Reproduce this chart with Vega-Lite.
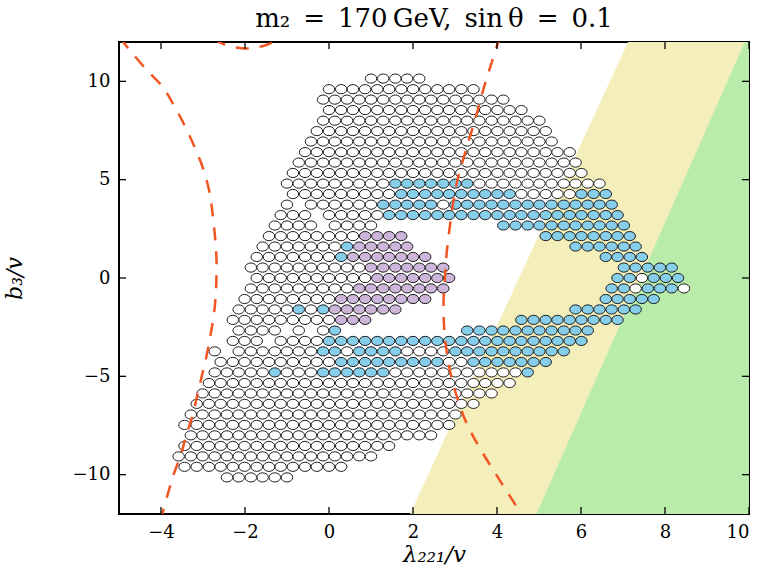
{
  "$schema": "https://vega.github.io/schema/vega-lite/v6.json",
  "width": 630,
  "height": 472,
  "autosize": {"type": "none"},
  "padding": {"left": 119, "top": 42, "right": 17, "bottom": 57},
  "background": "white",
  "config": {
    "view": {"stroke": "black", "strokeWidth": 2},
    "axis": {
      "domain": false, "grid": false, "ticks": false,
      "labelFont": "DejaVu Serif", "labelFontSize": 18, "labelColor": "black", "labelPadding": 9,
      "titleFont": "DejaVu Serif", "titleFontWeight": "normal", "titleFontStyle": "italic", "titleColor": "black"
    }
  },
  "title": {
    "text": "m\u2082\u2002=\u2002170\u2009GeV,\u2002sin\u2009\u03b8\u2002=\u20020.1",
    "font": "DejaVu Serif", "fontSize": 26, "fontWeight": "normal", "color": "black",
    "anchor": "middle", "frame": "group", "offset": 9
  },
  "datasets": {
    "bands": [
      {"band": "yellow", "y": -12, "x": 1.93, "x2": 10},
      {"band": "yellow", "y": 12, "x": 7.12, "x2": 10},
      {"band": "green", "y": -12, "x": 4.94, "x2": 10},
      {"band": "green", "y": 12, "x": 9.90, "x2": 10}
    ],
    "tickvals": [
      {"axis": "x", "v": -4}, {"axis": "x", "v": -2}, {"axis": "x", "v": 0}, {"axis": "x", "v": 2},
      {"axis": "x", "v": 4}, {"axis": "x", "v": 6}, {"axis": "x", "v": 8}, {"axis": "x", "v": 10},
      {"axis": "y", "v": -10}, {"axis": "y", "v": -5}, {"axis": "y", "v": 0}, {"axis": "y", "v": 5}, {"axis": "y", "v": 10}
    ],
    "contours": [
      {"curve": "L", "k": 0, "x": -4.97, "y": 12.2},
      {"curve": "L", "k": 1, "x": -4.90, "y": 12.0},
      {"curve": "L", "k": 2, "x": -4.74, "y": 11.57},
      {"curve": "L", "k": 3, "x": -4.35, "y": 10.6},
      {"curve": "L", "k": 4, "x": -3.95, "y": 9.69},
      {"curve": "L", "k": 5, "x": -3.70, "y": 8.8},
      {"curve": "L", "k": 6, "x": -3.50, "y": 8.02},
      {"curve": "L", "k": 7, "x": -3.24, "y": 6.85},
      {"curve": "L", "k": 8, "x": -3.00, "y": 5.58},
      {"curve": "L", "k": 9, "x": -2.84, "y": 4.31},
      {"curve": "L", "k": 10, "x": -2.76, "y": 3.04},
      {"curve": "L", "k": 11, "x": -2.71, "y": 2.0},
      {"curve": "L", "k": 12, "x": -2.68, "y": 1.0},
      {"curve": "L", "k": 13, "x": -2.68, "y": 0.0},
      {"curve": "L", "k": 14, "x": -2.70, "y": -1.0},
      {"curve": "L", "k": 15, "x": -2.75, "y": -2.0},
      {"curve": "L", "k": 16, "x": -2.83, "y": -3.0},
      {"curve": "L", "k": 17, "x": -2.92, "y": -4.0},
      {"curve": "L", "k": 18, "x": -3.03, "y": -5.0},
      {"curve": "L", "k": 19, "x": -3.14, "y": -6.0},
      {"curve": "L", "k": 20, "x": -3.25, "y": -7.0},
      {"curve": "L", "k": 21, "x": -3.40, "y": -8.0},
      {"curve": "L", "k": 22, "x": -3.53, "y": -9.0},
      {"curve": "L", "k": 23, "x": -3.70, "y": -10.0},
      {"curve": "L", "k": 24, "x": -3.84, "y": -11.0},
      {"curve": "L", "k": 25, "x": -3.97, "y": -12.0},
      {"curve": "L", "k": 26, "x": -4.01, "y": -12.3},
      {"curve": "R", "k": 0, "x": 4.07, "y": 12.3},
      {"curve": "R", "k": 1, "x": 4.03, "y": 12.0},
      {"curve": "R", "k": 2, "x": 3.88, "y": 11.0},
      {"curve": "R", "k": 3, "x": 3.73, "y": 10.0},
      {"curve": "R", "k": 4, "x": 3.60, "y": 9.0},
      {"curve": "R", "k": 5, "x": 3.47, "y": 8.0},
      {"curve": "R", "k": 6, "x": 3.33, "y": 7.0},
      {"curve": "R", "k": 7, "x": 3.19, "y": 6.0},
      {"curve": "R", "k": 8, "x": 3.06, "y": 5.0},
      {"curve": "R", "k": 9, "x": 2.97, "y": 4.0},
      {"curve": "R", "k": 10, "x": 2.90, "y": 3.0},
      {"curve": "R", "k": 11, "x": 2.84, "y": 2.0},
      {"curve": "R", "k": 12, "x": 2.79, "y": 1.0},
      {"curve": "R", "k": 13, "x": 2.76, "y": 0.0},
      {"curve": "R", "k": 14, "x": 2.73, "y": -1.0},
      {"curve": "R", "k": 15, "x": 2.73, "y": -2.0},
      {"curve": "R", "k": 16, "x": 2.76, "y": -3.0},
      {"curve": "R", "k": 17, "x": 2.82, "y": -4.0},
      {"curve": "R", "k": 18, "x": 2.91, "y": -5.0},
      {"curve": "R", "k": 19, "x": 3.04, "y": -6.0},
      {"curve": "R", "k": 20, "x": 3.20, "y": -7.0},
      {"curve": "R", "k": 21, "x": 3.42, "y": -8.0},
      {"curve": "R", "k": 22, "x": 3.69, "y": -9.0},
      {"curve": "R", "k": 23, "x": 3.98, "y": -10.0},
      {"curve": "R", "k": 24, "x": 4.28, "y": -11.0},
      {"curve": "R", "k": 25, "x": 4.58, "y": -12.0},
      {"curve": "R", "k": 26, "x": 4.67, "y": -12.3},
      {"curve": "T", "k": 0, "x": -2.75, "y": 12.15},
      {"curve": "T", "k": 1, "x": -2.50, "y": 11.88},
      {"curve": "T", "k": 2, "x": -2.25, "y": 11.73},
      {"curve": "T", "k": 3, "x": -1.97, "y": 11.67},
      {"curve": "T", "k": 4, "x": -1.70, "y": 11.73},
      {"curve": "T", "k": 5, "x": -1.45, "y": 11.88},
      {"curve": "T", "k": 6, "x": -1.20, "y": 12.15}
    ],
    "scan": [
      {"x":1.00,"y":10.14,"c":"w"},{"x":1.29,"y":10.14,"c":"w"},{"x":1.58,"y":10.14,"c":"w"},{"x":1.86,"y":10.14,"c":"w"},{"x":2.15,"y":10.14,"c":"w"},

      {"x":0.00,"y":9.60,"c":"w"},{"x":0.29,"y":9.60,"c":"w"},{"x":0.57,"y":9.60,"c":"w"},{"x":0.86,"y":9.60,"c":"w"},{"x":1.15,"y":9.60,"c":"w"},{"x":1.43,"y":9.60,"c":"w"},{"x":1.72,"y":9.60,"c":"w"},{"x":2.00,"y":9.60,"c":"w"},{"x":2.29,"y":9.60,"c":"w"},{"x":2.58,"y":9.60,"c":"w"},{"x":2.86,"y":9.60,"c":"w"},{"x":3.15,"y":9.60,"c":"w"},{"x":3.44,"y":9.60,"c":"w"},

      {"x":-0.14,"y":9.07,"c":"w"},{"x":0.14,"y":9.07,"c":"w"},{"x":0.43,"y":9.07,"c":"w"},{"x":0.72,"y":9.07,"c":"w"},{"x":1.00,"y":9.07,"c":"w"},{"x":1.29,"y":9.07,"c":"w"},{"x":1.58,"y":9.07,"c":"w"},{"x":1.86,"y":9.07,"c":"w"},{"x":2.15,"y":9.07,"c":"w"},{"x":2.43,"y":9.07,"c":"w"},{"x":2.72,"y":9.07,"c":"w"},{"x":3.01,"y":9.07,"c":"w"},{"x":3.29,"y":9.07,"c":"w"},{"x":3.58,"y":9.07,"c":"w"},{"x":3.87,"y":9.07,"c":"w"},{"x":4.15,"y":9.07,"c":"w"},

      {"x":0.00,"y":8.54,"c":"w"},{"x":0.29,"y":8.54,"c":"w"},{"x":0.57,"y":8.54,"c":"w"},{"x":0.86,"y":8.54,"c":"w"},{"x":1.15,"y":8.54,"c":"w"},{"x":1.43,"y":8.54,"c":"w"},{"x":1.72,"y":8.54,"c":"w"},{"x":2.00,"y":8.54,"c":"w"},{"x":2.29,"y":8.54,"c":"w"},{"x":2.58,"y":8.54,"c":"w"},{"x":2.86,"y":8.54,"c":"w"},{"x":3.15,"y":8.54,"c":"w"},{"x":3.44,"y":8.54,"c":"w"},{"x":3.72,"y":8.54,"c":"w"},{"x":4.01,"y":8.54,"c":"w"},{"x":4.30,"y":8.54,"c":"w"},{"x":4.58,"y":8.54,"c":"w"},

      {"x":-0.14,"y":8.00,"c":"w"},{"x":0.14,"y":8.00,"c":"w"},{"x":0.43,"y":8.00,"c":"w"},{"x":0.72,"y":8.00,"c":"w"},{"x":1.00,"y":8.00,"c":"w"},{"x":1.29,"y":8.00,"c":"w"},{"x":1.58,"y":8.00,"c":"w"},{"x":1.86,"y":8.00,"c":"w"},{"x":2.15,"y":8.00,"c":"w"},{"x":2.43,"y":8.00,"c":"w"},{"x":2.72,"y":8.00,"c":"w"},{"x":3.01,"y":8.00,"c":"w"},{"x":3.29,"y":8.00,"c":"w"},{"x":3.58,"y":8.00,"c":"w"},{"x":3.87,"y":8.00,"c":"w"},{"x":4.15,"y":8.00,"c":"w"},{"x":4.44,"y":8.00,"c":"w"},{"x":4.73,"y":8.00,"c":"w"},{"x":5.01,"y":8.00,"c":"w"},

      {"x":-0.29,"y":7.47,"c":"w"},{"x":0.00,"y":7.47,"c":"w"},{"x":0.29,"y":7.47,"c":"w"},{"x":0.57,"y":7.47,"c":"w"},{"x":0.86,"y":7.47,"c":"w"},{"x":1.15,"y":7.47,"c":"w"},{"x":1.43,"y":7.47,"c":"w"},{"x":1.72,"y":7.47,"c":"w"},{"x":2.00,"y":7.47,"c":"w"},{"x":2.29,"y":7.47,"c":"w"},{"x":2.58,"y":7.47,"c":"w"},{"x":2.86,"y":7.47,"c":"w"},{"x":3.15,"y":7.47,"c":"w"},{"x":3.44,"y":7.47,"c":"w"},{"x":3.72,"y":7.47,"c":"w"},{"x":4.01,"y":7.47,"c":"w"},{"x":4.30,"y":7.47,"c":"w"},{"x":4.58,"y":7.47,"c":"w"},{"x":4.87,"y":7.47,"c":"w"},{"x":5.16,"y":7.47,"c":"w"},

      {"x":-0.43,"y":6.94,"c":"w"},{"x":-0.14,"y":6.94,"c":"w"},{"x":0.14,"y":6.94,"c":"w"},{"x":0.43,"y":6.94,"c":"w"},{"x":0.72,"y":6.94,"c":"w"},{"x":1.00,"y":6.94,"c":"w"},{"x":1.29,"y":6.94,"c":"w"},{"x":1.58,"y":6.94,"c":"w"},{"x":1.86,"y":6.94,"c":"w"},{"x":2.15,"y":6.94,"c":"w"},{"x":2.43,"y":6.94,"c":"w"},{"x":2.72,"y":6.94,"c":"w"},{"x":3.01,"y":6.94,"c":"w"},{"x":3.29,"y":6.94,"c":"w"},{"x":3.58,"y":6.94,"c":"w"},{"x":3.87,"y":6.94,"c":"w"},{"x":4.15,"y":6.94,"c":"w"},{"x":4.44,"y":6.94,"c":"w"},{"x":4.73,"y":6.94,"c":"w"},{"x":5.01,"y":6.94,"c":"w"},{"x":5.30,"y":6.94,"c":"w"},

      {"x":-0.57,"y":6.40,"c":"w"},{"x":-0.29,"y":6.40,"c":"w"},{"x":0.00,"y":6.40,"c":"w"},{"x":0.29,"y":6.40,"c":"w"},{"x":0.57,"y":6.40,"c":"w"},{"x":0.86,"y":6.40,"c":"w"},{"x":1.15,"y":6.40,"c":"w"},{"x":1.43,"y":6.40,"c":"w"},{"x":1.72,"y":6.40,"c":"w"},{"x":2.00,"y":6.40,"c":"w"},{"x":2.29,"y":6.40,"c":"w"},{"x":2.58,"y":6.40,"c":"w"},{"x":2.86,"y":6.40,"c":"w"},{"x":3.15,"y":6.40,"c":"w"},{"x":3.44,"y":6.40,"c":"w"},{"x":3.72,"y":6.40,"c":"w"},{"x":4.01,"y":6.40,"c":"w"},{"x":4.30,"y":6.40,"c":"w"},{"x":4.58,"y":6.40,"c":"w"},{"x":4.87,"y":6.40,"c":"w"},{"x":5.16,"y":6.40,"c":"w"},{"x":5.44,"y":6.40,"c":"w"},{"x":5.73,"y":6.40,"c":"w"},

      {"x":-0.72,"y":5.87,"c":"w"},{"x":-0.43,"y":5.87,"c":"w"},{"x":-0.14,"y":5.87,"c":"w"},{"x":0.14,"y":5.87,"c":"w"},{"x":0.43,"y":5.87,"c":"w"},{"x":0.72,"y":5.87,"c":"w"},{"x":1.00,"y":5.87,"c":"w"},{"x":1.29,"y":5.87,"c":"w"},{"x":1.58,"y":5.87,"c":"w"},{"x":1.86,"y":5.87,"c":"w"},{"x":2.15,"y":5.87,"c":"w"},{"x":2.43,"y":5.87,"c":"w"},{"x":2.72,"y":5.87,"c":"w"},{"x":3.01,"y":5.87,"c":"w"},{"x":3.29,"y":5.87,"c":"w"},{"x":3.58,"y":5.87,"c":"w"},{"x":3.87,"y":5.87,"c":"w"},{"x":4.15,"y":5.87,"c":"w"},{"x":4.44,"y":5.87,"c":"w"},{"x":4.73,"y":5.87,"c":"w"},{"x":5.01,"y":5.87,"c":"w"},{"x":5.30,"y":5.87,"c":"w"},{"x":5.59,"y":5.87,"c":"w"},{"x":5.87,"y":5.87,"c":"w"},

      {"x":-0.86,"y":5.34,"c":"w"},{"x":-0.57,"y":5.34,"c":"w"},{"x":-0.29,"y":5.34,"c":"w"},{"x":0.00,"y":5.34,"c":"w"},{"x":0.29,"y":5.34,"c":"w"},{"x":0.57,"y":5.34,"c":"w"},{"x":0.86,"y":5.34,"c":"w"},{"x":1.15,"y":5.34,"c":"w"},{"x":1.43,"y":5.34,"c":"w"},{"x":1.72,"y":5.34,"c":"w"},{"x":2.00,"y":5.34,"c":"w"},{"x":2.29,"y":5.34,"c":"w"},{"x":2.58,"y":5.34,"c":"w"},{"x":2.86,"y":5.34,"c":"w"},{"x":3.15,"y":5.34,"c":"w"},{"x":3.44,"y":5.34,"c":"w"},{"x":3.72,"y":5.34,"c":"w"},{"x":4.01,"y":5.34,"c":"w"},{"x":4.30,"y":5.34,"c":"w"},{"x":4.58,"y":5.34,"c":"w"},{"x":4.87,"y":5.34,"c":"w"},{"x":5.16,"y":5.34,"c":"w"},{"x":5.44,"y":5.34,"c":"w"},{"x":5.73,"y":5.34,"c":"w"},{"x":6.01,"y":5.34,"c":"w"},

      {"x":-1.00,"y":4.80,"c":"w"},{"x":-0.72,"y":4.80,"c":"w"},{"x":-0.43,"y":4.80,"c":"w"},{"x":-0.14,"y":4.80,"c":"w"},{"x":0.14,"y":4.80,"c":"w"},{"x":0.43,"y":4.80,"c":"w"},{"x":0.72,"y":4.80,"c":"w"},{"x":1.00,"y":4.80,"c":"w"},{"x":1.29,"y":4.80,"c":"w"},
      {"x":1.58,"y":4.80,"c":"b"},{"x":1.86,"y":4.80,"c":"b"},{"x":2.15,"y":4.80,"c":"b"},{"x":2.43,"y":4.80,"c":"b"},{"x":2.72,"y":4.80,"c":"b"},{"x":3.01,"y":4.80,"c":"b"},{"x":3.29,"y":4.80,"c":"b"},
      {"x":3.58,"y":4.80,"c":"w"},{"x":3.87,"y":4.80,"c":"w"},{"x":4.15,"y":4.80,"c":"w"},{"x":4.44,"y":4.80,"c":"w"},{"x":4.73,"y":4.80,"c":"w"},{"x":5.01,"y":4.80,"c":"w"},{"x":5.30,"y":4.80,"c":"w"},{"x":5.59,"y":4.80,"c":"w"},{"x":5.87,"y":4.80,"c":"w"},{"x":6.16,"y":4.80,"c":"w"},{"x":6.44,"y":4.80,"c":"w"},

      {"x":-0.86,"y":4.27,"c":"w"},{"x":-0.57,"y":4.27,"c":"w"},{"x":-0.29,"y":4.27,"c":"w"},{"x":0.00,"y":4.27,"c":"w"},{"x":0.29,"y":4.27,"c":"w"},{"x":0.57,"y":4.27,"c":"w"},{"x":0.86,"y":4.27,"c":"w"},{"x":1.15,"y":4.27,"c":"w"},{"x":1.43,"y":4.27,"c":"w"},
      {"x":1.72,"y":4.27,"c":"b"},{"x":2.00,"y":4.27,"c":"b"},{"x":2.29,"y":4.27,"c":"b"},{"x":2.58,"y":4.27,"c":"b"},{"x":2.86,"y":4.27,"c":"b"},{"x":3.15,"y":4.27,"c":"b"},{"x":3.44,"y":4.27,"c":"b"},{"x":3.72,"y":4.27,"c":"b"},{"x":4.01,"y":4.27,"c":"b"},{"x":4.30,"y":4.27,"c":"b"},
      {"x":4.58,"y":4.27,"c":"w"},{"x":4.87,"y":4.27,"c":"w"},{"x":5.16,"y":4.27,"c":"w"},{"x":5.44,"y":4.27,"c":"w"},{"x":5.73,"y":4.27,"c":"w"},
      {"x":6.01,"y":4.27,"c":"b"},{"x":6.30,"y":4.27,"c":"b"},{"x":6.59,"y":4.27,"c":"b"},

      {"x":-1.00,"y":3.73,"c":"w"},{"x":-0.43,"y":3.73,"c":"w"},{"x":-0.14,"y":3.73,"c":"w"},{"x":0.14,"y":3.73,"c":"w"},{"x":0.43,"y":3.73,"c":"w"},{"x":0.72,"y":3.73,"c":"w"},{"x":1.00,"y":3.73,"c":"w"},
      {"x":1.29,"y":3.73,"c":"b"},{"x":1.58,"y":3.73,"c":"b"},{"x":1.86,"y":3.73,"c":"b"},{"x":2.15,"y":3.73,"c":"b"},{"x":2.43,"y":3.73,"c":"b"},
      {"x":2.72,"y":3.73,"c":"w"},
      {"x":3.01,"y":3.73,"c":"b"},{"x":3.29,"y":3.73,"c":"b"},{"x":3.58,"y":3.73,"c":"b"},{"x":3.87,"y":3.73,"c":"b"},{"x":4.15,"y":3.73,"c":"b"},{"x":4.44,"y":3.73,"c":"b"},{"x":4.73,"y":3.73,"c":"b"},{"x":5.01,"y":3.73,"c":"b"},{"x":5.30,"y":3.73,"c":"b"},{"x":5.59,"y":3.73,"c":"b"},{"x":5.87,"y":3.73,"c":"b"},{"x":6.16,"y":3.73,"c":"b"},{"x":6.44,"y":3.73,"c":"b"},{"x":6.73,"y":3.73,"c":"b"},

      {"x":-1.15,"y":3.20,"c":"w"},{"x":-0.86,"y":3.20,"c":"w"},{"x":-0.57,"y":3.20,"c":"w"},{"x":0.00,"y":3.20,"c":"w"},{"x":0.29,"y":3.20,"c":"w"},{"x":0.57,"y":3.20,"c":"w"},{"x":0.86,"y":3.20,"c":"w"},{"x":1.15,"y":3.20,"c":"w"},
      {"x":1.43,"y":3.20,"c":"b"},{"x":1.72,"y":3.20,"c":"b"},{"x":2.00,"y":3.20,"c":"b"},{"x":2.29,"y":3.20,"c":"b"},{"x":2.58,"y":3.20,"c":"b"},{"x":2.86,"y":3.20,"c":"b"},{"x":3.15,"y":3.20,"c":"b"},{"x":3.44,"y":3.20,"c":"b"},{"x":3.72,"y":3.20,"c":"b"},{"x":4.01,"y":3.20,"c":"b"},{"x":4.30,"y":3.20,"c":"b"},{"x":4.58,"y":3.20,"c":"b"},{"x":4.87,"y":3.20,"c":"b"},{"x":5.16,"y":3.20,"c":"b"},{"x":5.44,"y":3.20,"c":"b"},{"x":5.73,"y":3.20,"c":"b"},{"x":6.01,"y":3.20,"c":"b"},{"x":6.30,"y":3.20,"c":"b"},{"x":6.59,"y":3.20,"c":"b"},{"x":6.87,"y":3.20,"c":"b"},

      {"x":-1.29,"y":2.67,"c":"w"},{"x":-1.00,"y":2.67,"c":"w"},{"x":-0.72,"y":2.67,"c":"w"},{"x":-0.43,"y":2.67,"c":"w"},{"x":0.14,"y":2.67,"c":"w"},{"x":0.43,"y":2.67,"c":"w"},{"x":0.72,"y":2.67,"c":"w"},{"x":1.00,"y":2.67,"c":"w"},
      {"x":4.15,"y":2.67,"c":"b"},{"x":4.44,"y":2.67,"c":"b"},{"x":4.73,"y":2.67,"c":"b"},{"x":5.01,"y":2.67,"c":"b"},{"x":5.30,"y":2.67,"c":"b"},{"x":5.59,"y":2.67,"c":"b"},{"x":5.87,"y":2.67,"c":"b"},{"x":6.16,"y":2.67,"c":"b"},{"x":6.44,"y":2.67,"c":"b"},{"x":6.73,"y":2.67,"c":"b"},{"x":7.02,"y":2.67,"c":"b"},

      {"x":-1.43,"y":2.13,"c":"w"},{"x":-1.15,"y":2.13,"c":"w"},{"x":-0.86,"y":2.13,"c":"w"},{"x":-0.57,"y":2.13,"c":"w"},{"x":-0.29,"y":2.13,"c":"w"},{"x":0.00,"y":2.13,"c":"w"},{"x":0.29,"y":2.13,"c":"w"},{"x":0.57,"y":2.13,"c":"w"},
      {"x":0.86,"y":2.13,"c":"p"},{"x":1.15,"y":2.13,"c":"p"},{"x":1.43,"y":2.13,"c":"p"},{"x":1.72,"y":2.13,"c":"p"},
      {"x":5.16,"y":2.13,"c":"b"},{"x":5.44,"y":2.13,"c":"b"},{"x":5.73,"y":2.13,"c":"b"},{"x":6.01,"y":2.13,"c":"b"},{"x":6.30,"y":2.13,"c":"b"},{"x":6.59,"y":2.13,"c":"b"},{"x":6.87,"y":2.13,"c":"b"},{"x":7.16,"y":2.13,"c":"b"},

      {"x":-1.58,"y":1.60,"c":"w"},{"x":-1.29,"y":1.60,"c":"w"},{"x":-1.00,"y":1.60,"c":"w"},{"x":-0.72,"y":1.60,"c":"w"},{"x":-0.43,"y":1.60,"c":"w"},{"x":-0.14,"y":1.60,"c":"w"},{"x":0.14,"y":1.60,"c":"w"},
      {"x":0.43,"y":1.60,"c":"b"},
      {"x":0.72,"y":1.60,"c":"p"},{"x":1.00,"y":1.60,"c":"p"},{"x":1.29,"y":1.60,"c":"p"},{"x":1.58,"y":1.60,"c":"p"},{"x":1.86,"y":1.60,"c":"p"},
      {"x":5.87,"y":1.60,"c":"b"},{"x":6.16,"y":1.60,"c":"b"},{"x":6.44,"y":1.60,"c":"b"},{"x":6.73,"y":1.60,"c":"b"},{"x":7.02,"y":1.60,"c":"b"},{"x":7.30,"y":1.60,"c":"b"},

      {"x":-1.72,"y":1.07,"c":"w"},{"x":-1.43,"y":1.07,"c":"w"},{"x":-1.15,"y":1.07,"c":"w"},{"x":-0.86,"y":1.07,"c":"w"},{"x":-0.57,"y":1.07,"c":"w"},{"x":-0.29,"y":1.07,"c":"w"},{"x":0.00,"y":1.07,"c":"w"},
      {"x":0.29,"y":1.07,"c":"b"},
      {"x":0.57,"y":1.07,"c":"p"},{"x":0.86,"y":1.07,"c":"p"},{"x":1.15,"y":1.07,"c":"p"},{"x":1.43,"y":1.07,"c":"p"},{"x":1.72,"y":1.07,"c":"p"},{"x":2.00,"y":1.07,"c":"p"},{"x":2.29,"y":1.07,"c":"p"},
      {"x":6.59,"y":1.07,"c":"b"},{"x":6.87,"y":1.07,"c":"b"},{"x":7.16,"y":1.07,"c":"b"},{"x":7.45,"y":1.07,"c":"b"},

      {"x":-1.86,"y":0.53,"c":"w"},{"x":-1.58,"y":0.53,"c":"w"},{"x":-1.29,"y":0.53,"c":"w"},{"x":-1.00,"y":0.53,"c":"w"},{"x":-0.72,"y":0.53,"c":"w"},{"x":-0.43,"y":0.53,"c":"w"},{"x":-0.14,"y":0.53,"c":"w"},{"x":0.14,"y":0.53,"c":"w"},{"x":0.43,"y":0.53,"c":"w"},{"x":0.72,"y":0.53,"c":"w"},
      {"x":1.00,"y":0.53,"c":"p"},{"x":1.29,"y":0.53,"c":"p"},{"x":1.58,"y":0.53,"c":"p"},{"x":1.86,"y":0.53,"c":"p"},{"x":2.15,"y":0.53,"c":"p"},{"x":2.43,"y":0.53,"c":"p"},{"x":2.72,"y":0.53,"c":"p"},
      {"x":7.02,"y":0.53,"c":"b"},{"x":7.30,"y":0.53,"c":"b"},{"x":7.59,"y":0.53,"c":"b"},{"x":7.88,"y":0.53,"c":"b"},{"x":8.16,"y":0.53,"c":"b"},

      {"x":-1.72,"y":0.00,"c":"w"},{"x":-1.43,"y":0.00,"c":"w"},{"x":-1.15,"y":0.00,"c":"w"},{"x":-0.86,"y":0.00,"c":"w"},{"x":-0.57,"y":0.00,"c":"w"},{"x":-0.29,"y":0.00,"c":"w"},{"x":0.00,"y":0.00,"c":"w"},{"x":0.29,"y":0.00,"c":"w"},{"x":0.57,"y":0.00,"c":"w"},{"x":0.86,"y":0.00,"c":"w"},
      {"x":1.15,"y":0.00,"c":"p"},{"x":1.43,"y":0.00,"c":"p"},{"x":1.72,"y":0.00,"c":"p"},{"x":2.00,"y":0.00,"c":"p"},{"x":2.29,"y":0.00,"c":"p"},{"x":2.58,"y":0.00,"c":"p"},{"x":2.86,"y":0.00,"c":"p"},
      {"x":6.87,"y":0.00,"c":"b"},{"x":7.16,"y":0.00,"c":"b"},{"x":7.45,"y":0.00,"c":"w"},{"x":7.73,"y":0.00,"c":"b"},{"x":8.02,"y":0.00,"c":"b"},{"x":8.31,"y":0.00,"c":"b"},

      {"x":-1.86,"y":-0.53,"c":"w"},{"x":-1.58,"y":-0.53,"c":"w"},{"x":-1.29,"y":-0.53,"c":"w"},{"x":-1.00,"y":-0.53,"c":"w"},{"x":-0.72,"y":-0.53,"c":"w"},{"x":-0.43,"y":-0.53,"c":"w"},{"x":-0.14,"y":-0.53,"c":"w"},{"x":0.14,"y":-0.53,"c":"w"},{"x":0.43,"y":-0.53,"c":"w"},
      {"x":0.72,"y":-0.53,"c":"p"},{"x":1.00,"y":-0.53,"c":"p"},{"x":1.29,"y":-0.53,"c":"p"},{"x":1.58,"y":-0.53,"c":"p"},{"x":1.86,"y":-0.53,"c":"p"},{"x":2.15,"y":-0.53,"c":"p"},{"x":2.43,"y":-0.53,"c":"p"},{"x":2.72,"y":-0.53,"c":"p"},
      {"x":6.73,"y":-0.53,"c":"b"},{"x":7.02,"y":-0.53,"c":"b"},{"x":7.30,"y":-0.53,"c":"w"},{"x":7.59,"y":-0.53,"c":"b"},{"x":7.88,"y":-0.53,"c":"b"},{"x":8.16,"y":-0.53,"c":"b"},{"x":8.45,"y":-0.53,"c":"w"},

      {"x":-2.01,"y":-1.07,"c":"w"},{"x":-1.72,"y":-1.07,"c":"w"},{"x":-1.43,"y":-1.07,"c":"w"},{"x":-1.15,"y":-1.07,"c":"w"},{"x":-0.86,"y":-1.07,"c":"w"},{"x":-0.57,"y":-1.07,"c":"w"},{"x":-0.29,"y":-1.07,"c":"w"},{"x":0.00,"y":-1.07,"c":"w"},
      {"x":0.29,"y":-1.07,"c":"p"},{"x":0.57,"y":-1.07,"c":"p"},{"x":0.86,"y":-1.07,"c":"p"},{"x":1.15,"y":-1.07,"c":"p"},{"x":1.43,"y":-1.07,"c":"p"},{"x":1.72,"y":-1.07,"c":"p"},{"x":2.00,"y":-1.07,"c":"p"},{"x":2.29,"y":-1.07,"c":"p"},
      {"x":6.59,"y":-1.07,"c":"b"},{"x":6.87,"y":-1.07,"c":"b"},{"x":7.16,"y":-1.07,"c":"b"},{"x":7.45,"y":-1.07,"c":"b"},{"x":7.73,"y":-1.07,"c":"b"},

      {"x":-2.15,"y":-1.60,"c":"w"},{"x":-1.86,"y":-1.60,"c":"w"},{"x":-1.58,"y":-1.60,"c":"w"},{"x":-1.29,"y":-1.60,"c":"w"},{"x":-1.00,"y":-1.60,"c":"w"},
      {"x":-0.72,"y":-1.60,"c":"b"},{"x":-0.43,"y":-1.60,"c":"w"},{"x":-0.14,"y":-1.60,"c":"b"},
      {"x":0.14,"y":-1.60,"c":"p"},{"x":0.43,"y":-1.60,"c":"p"},{"x":0.72,"y":-1.60,"c":"p"},{"x":1.00,"y":-1.60,"c":"p"},{"x":1.29,"y":-1.60,"c":"p"},{"x":1.58,"y":-1.60,"c":"p"},
      {"x":5.87,"y":-1.60,"c":"b"},{"x":6.16,"y":-1.60,"c":"b"},{"x":6.44,"y":-1.60,"c":"b"},{"x":6.73,"y":-1.60,"c":"b"},{"x":7.02,"y":-1.60,"c":"b"},{"x":7.30,"y":-1.60,"c":"b"},

      {"x":-2.29,"y":-2.13,"c":"w"},{"x":-2.01,"y":-2.13,"c":"w"},{"x":-1.72,"y":-2.13,"c":"w"},{"x":-1.43,"y":-2.13,"c":"w"},{"x":-1.15,"y":-2.13,"c":"w"},{"x":-0.86,"y":-2.13,"c":"w"},{"x":-0.57,"y":-2.13,"c":"w"},{"x":-0.29,"y":-2.13,"c":"w"},{"x":0.00,"y":-2.13,"c":"w"},
      {"x":0.29,"y":-2.13,"c":"p"},{"x":0.57,"y":-2.13,"c":"p"},{"x":0.86,"y":-2.13,"c":"p"},
      {"x":4.58,"y":-2.13,"c":"b"},{"x":4.87,"y":-2.13,"c":"b"},{"x":5.16,"y":-2.13,"c":"b"},{"x":5.44,"y":-2.13,"c":"b"},{"x":5.73,"y":-2.13,"c":"b"},{"x":6.01,"y":-2.13,"c":"b"},{"x":6.30,"y":-2.13,"c":"b"},{"x":6.59,"y":-2.13,"c":"b"},{"x":6.87,"y":-2.13,"c":"b"},

      {"x":-2.15,"y":-2.67,"c":"w"},{"x":-1.86,"y":-2.67,"c":"w"},{"x":-1.58,"y":-2.67,"c":"w"},{"x":-1.29,"y":-2.67,"c":"w"},{"x":-0.72,"y":-2.67,"c":"w"},{"x":-0.14,"y":-2.67,"c":"w"},
      {"x":0.14,"y":-2.67,"c":"b"},
      {"x":3.29,"y":-2.67,"c":"b"},{"x":3.58,"y":-2.67,"c":"b"},{"x":3.87,"y":-2.67,"c":"b"},{"x":4.15,"y":-2.67,"c":"b"},{"x":4.44,"y":-2.67,"c":"b"},{"x":4.73,"y":-2.67,"c":"b"},{"x":5.01,"y":-2.67,"c":"b"},{"x":5.30,"y":-2.67,"c":"b"},{"x":5.59,"y":-2.67,"c":"b"},{"x":5.87,"y":-2.67,"c":"b"},{"x":6.16,"y":-2.67,"c":"b"},

      {"x":-2.29,"y":-3.20,"c":"w"},{"x":-2.01,"y":-3.20,"c":"w"},{"x":-1.72,"y":-3.20,"c":"w"},{"x":-1.15,"y":-3.20,"c":"w"},{"x":-0.86,"y":-3.20,"c":"w"},{"x":-0.57,"y":-3.20,"c":"w"},{"x":-0.29,"y":-3.20,"c":"w"},
      {"x":0.00,"y":-3.20,"c":"b"},{"x":0.29,"y":-3.20,"c":"b"},{"x":0.57,"y":-3.20,"c":"b"},{"x":0.86,"y":-3.20,"c":"b"},{"x":1.15,"y":-3.20,"c":"b"},{"x":1.43,"y":-3.20,"c":"b"},{"x":1.72,"y":-3.20,"c":"b"},{"x":2.00,"y":-3.20,"c":"b"},{"x":2.29,"y":-3.20,"c":"b"},{"x":2.58,"y":-3.20,"c":"b"},{"x":2.86,"y":-3.20,"c":"b"},{"x":3.15,"y":-3.20,"c":"b"},{"x":3.44,"y":-3.20,"c":"b"},{"x":3.72,"y":-3.20,"c":"b"},{"x":4.01,"y":-3.20,"c":"b"},{"x":4.30,"y":-3.20,"c":"b"},{"x":4.58,"y":-3.20,"c":"b"},{"x":4.87,"y":-3.20,"c":"b"},{"x":5.16,"y":-3.20,"c":"b"},{"x":5.44,"y":-3.20,"c":"b"},{"x":5.73,"y":-3.20,"c":"b"},{"x":6.01,"y":-3.20,"c":"b"},

      {"x":-2.72,"y":-3.73,"c":"w"},{"x":-2.15,"y":-3.73,"c":"w"},{"x":-1.86,"y":-3.73,"c":"w"},{"x":-1.58,"y":-3.73,"c":"w"},{"x":-1.29,"y":-3.73,"c":"w"},{"x":-1.00,"y":-3.73,"c":"w"},{"x":-0.72,"y":-3.73,"c":"w"},{"x":-0.43,"y":-3.73,"c":"w"},
      {"x":-0.14,"y":-3.73,"c":"b"},{"x":0.14,"y":-3.73,"c":"b"},{"x":0.43,"y":-3.73,"c":"w"},{"x":0.72,"y":-3.73,"c":"b"},{"x":1.00,"y":-3.73,"c":"b"},{"x":1.29,"y":-3.73,"c":"b"},{"x":1.58,"y":-3.73,"c":"b"},
      {"x":1.86,"y":-3.73,"c":"w"},{"x":2.15,"y":-3.73,"c":"w"},{"x":2.43,"y":-3.73,"c":"w"},{"x":2.72,"y":-3.73,"c":"w"},
      {"x":3.01,"y":-3.73,"c":"b"},{"x":3.29,"y":-3.73,"c":"b"},{"x":3.58,"y":-3.73,"c":"b"},{"x":3.87,"y":-3.73,"c":"b"},{"x":4.15,"y":-3.73,"c":"b"},{"x":4.44,"y":-3.73,"c":"b"},{"x":4.73,"y":-3.73,"c":"b"},{"x":5.01,"y":-3.73,"c":"b"},{"x":5.30,"y":-3.73,"c":"b"},{"x":5.59,"y":-3.73,"c":"b"},

      {"x":-2.58,"y":-4.27,"c":"w"},{"x":-2.29,"y":-4.27,"c":"w"},{"x":-2.01,"y":-4.27,"c":"w"},{"x":-1.72,"y":-4.27,"c":"w"},{"x":-1.43,"y":-4.27,"c":"w"},{"x":-1.15,"y":-4.27,"c":"w"},{"x":-0.86,"y":-4.27,"c":"w"},{"x":-0.57,"y":-4.27,"c":"w"},{"x":-0.29,"y":-4.27,"c":"w"},{"x":0.00,"y":-4.27,"c":"w"},
      {"x":0.29,"y":-4.27,"c":"b"},{"x":0.57,"y":-4.27,"c":"b"},{"x":0.86,"y":-4.27,"c":"b"},{"x":1.15,"y":-4.27,"c":"b"},{"x":1.43,"y":-4.27,"c":"b"},{"x":1.72,"y":-4.27,"c":"b"},{"x":2.00,"y":-4.27,"c":"b"},{"x":2.29,"y":-4.27,"c":"b"},{"x":2.58,"y":-4.27,"c":"b"},
      {"x":2.86,"y":-4.27,"c":"w"},{"x":3.15,"y":-4.27,"c":"w"},
      {"x":3.44,"y":-4.27,"c":"b"},{"x":3.72,"y":-4.27,"c":"b"},{"x":4.01,"y":-4.27,"c":"b"},{"x":4.30,"y":-4.27,"c":"b"},{"x":4.58,"y":-4.27,"c":"b"},{"x":4.87,"y":-4.27,"c":"b"},{"x":5.16,"y":-4.27,"c":"b"},

      {"x":-2.72,"y":-4.80,"c":"w"},{"x":-2.43,"y":-4.80,"c":"w"},{"x":-2.15,"y":-4.80,"c":"w"},{"x":-1.86,"y":-4.80,"c":"w"},{"x":-1.58,"y":-4.80,"c":"w"},
      {"x":-1.29,"y":-4.80,"c":"b"},
      {"x":-1.00,"y":-4.80,"c":"w"},{"x":-0.72,"y":-4.80,"c":"w"},{"x":-0.43,"y":-4.80,"c":"w"},
      {"x":-0.14,"y":-4.80,"c":"b"},{"x":0.14,"y":-4.80,"c":"b"},{"x":0.43,"y":-4.80,"c":"b"},{"x":0.72,"y":-4.80,"c":"b"},{"x":1.00,"y":-4.80,"c":"b"},{"x":1.29,"y":-4.80,"c":"b"},
      {"x":1.58,"y":-4.80,"c":"w"},{"x":1.86,"y":-4.80,"c":"w"},{"x":2.15,"y":-4.80,"c":"w"},{"x":2.43,"y":-4.80,"c":"w"},{"x":2.72,"y":-4.80,"c":"w"},{"x":3.01,"y":-4.80,"c":"w"},{"x":3.29,"y":-4.80,"c":"w"},{"x":3.58,"y":-4.80,"c":"w"},{"x":3.87,"y":-4.80,"c":"w"},{"x":4.15,"y":-4.80,"c":"w"},{"x":4.44,"y":-4.80,"c":"w"},
      {"x":4.73,"y":-4.80,"c":"b"},

      {"x":-2.86,"y":-5.34,"c":"w"},{"x":-2.58,"y":-5.34,"c":"w"},{"x":-2.29,"y":-5.34,"c":"w"},{"x":-2.01,"y":-5.34,"c":"w"},{"x":-1.72,"y":-5.34,"c":"w"},{"x":-1.43,"y":-5.34,"c":"w"},{"x":-1.15,"y":-5.34,"c":"w"},{"x":-0.86,"y":-5.34,"c":"w"},{"x":-0.57,"y":-5.34,"c":"w"},{"x":-0.29,"y":-5.34,"c":"w"},{"x":0.00,"y":-5.34,"c":"w"},{"x":0.29,"y":-5.34,"c":"w"},{"x":0.57,"y":-5.34,"c":"w"},{"x":0.86,"y":-5.34,"c":"w"},{"x":1.15,"y":-5.34,"c":"w"},{"x":1.43,"y":-5.34,"c":"w"},{"x":1.72,"y":-5.34,"c":"w"},{"x":2.00,"y":-5.34,"c":"w"},{"x":2.29,"y":-5.34,"c":"w"},{"x":2.58,"y":-5.34,"c":"w"},{"x":2.86,"y":-5.34,"c":"w"},{"x":3.15,"y":-5.34,"c":"w"},{"x":3.44,"y":-5.34,"c":"w"},{"x":3.72,"y":-5.34,"c":"w"},{"x":4.01,"y":-5.34,"c":"w"},{"x":4.30,"y":-5.34,"c":"w"},

      {"x":-3.01,"y":-5.87,"c":"w"},{"x":-2.72,"y":-5.87,"c":"w"},{"x":-2.43,"y":-5.87,"c":"w"},{"x":-2.15,"y":-5.87,"c":"w"},{"x":-1.86,"y":-5.87,"c":"w"},{"x":-1.58,"y":-5.87,"c":"w"},{"x":-1.29,"y":-5.87,"c":"w"},{"x":-1.00,"y":-5.87,"c":"w"},{"x":-0.72,"y":-5.87,"c":"w"},{"x":-0.43,"y":-5.87,"c":"w"},{"x":-0.14,"y":-5.87,"c":"w"},{"x":0.14,"y":-5.87,"c":"w"},{"x":0.43,"y":-5.87,"c":"w"},{"x":0.72,"y":-5.87,"c":"w"},{"x":1.00,"y":-5.87,"c":"w"},{"x":1.29,"y":-5.87,"c":"w"},{"x":1.58,"y":-5.87,"c":"w"},{"x":1.86,"y":-5.87,"c":"w"},{"x":2.15,"y":-5.87,"c":"w"},{"x":2.43,"y":-5.87,"c":"w"},{"x":2.72,"y":-5.87,"c":"w"},{"x":3.01,"y":-5.87,"c":"w"},{"x":3.29,"y":-5.87,"c":"w"},{"x":3.58,"y":-5.87,"c":"w"},{"x":3.87,"y":-5.87,"c":"w"},

      {"x":-3.15,"y":-6.40,"c":"w"},{"x":-2.86,"y":-6.40,"c":"w"},{"x":-2.58,"y":-6.40,"c":"w"},{"x":-2.29,"y":-6.40,"c":"w"},{"x":-2.01,"y":-6.40,"c":"w"},{"x":-1.72,"y":-6.40,"c":"w"},{"x":-1.43,"y":-6.40,"c":"w"},{"x":-1.15,"y":-6.40,"c":"w"},{"x":-0.86,"y":-6.40,"c":"w"},{"x":-0.57,"y":-6.40,"c":"w"},{"x":-0.29,"y":-6.40,"c":"w"},{"x":0.00,"y":-6.40,"c":"w"},{"x":0.29,"y":-6.40,"c":"w"},{"x":0.57,"y":-6.40,"c":"w"},{"x":0.86,"y":-6.40,"c":"w"},{"x":1.15,"y":-6.40,"c":"w"},{"x":1.43,"y":-6.40,"c":"w"},{"x":1.72,"y":-6.40,"c":"w"},{"x":2.00,"y":-6.40,"c":"w"},{"x":2.29,"y":-6.40,"c":"w"},{"x":2.58,"y":-6.40,"c":"w"},{"x":2.86,"y":-6.40,"c":"w"},{"x":3.15,"y":-6.40,"c":"w"},{"x":3.44,"y":-6.40,"c":"w"},

      {"x":-3.29,"y":-6.94,"c":"w"},{"x":-3.01,"y":-6.94,"c":"w"},{"x":-2.72,"y":-6.94,"c":"w"},{"x":-2.43,"y":-6.94,"c":"w"},{"x":-2.15,"y":-6.94,"c":"w"},{"x":-1.86,"y":-6.94,"c":"w"},{"x":-1.58,"y":-6.94,"c":"w"},{"x":-1.29,"y":-6.94,"c":"w"},{"x":-1.00,"y":-6.94,"c":"w"},{"x":-0.72,"y":-6.94,"c":"w"},{"x":-0.43,"y":-6.94,"c":"w"},{"x":-0.14,"y":-6.94,"c":"w"},{"x":0.14,"y":-6.94,"c":"w"},{"x":0.43,"y":-6.94,"c":"w"},{"x":0.72,"y":-6.94,"c":"w"},{"x":1.00,"y":-6.94,"c":"w"},{"x":1.29,"y":-6.94,"c":"w"},{"x":1.58,"y":-6.94,"c":"w"},{"x":1.86,"y":-6.94,"c":"w"},{"x":2.15,"y":-6.94,"c":"w"},{"x":2.43,"y":-6.94,"c":"w"},{"x":2.72,"y":-6.94,"c":"w"},{"x":3.01,"y":-6.94,"c":"w"},

      {"x":-3.44,"y":-7.47,"c":"w"},{"x":-3.15,"y":-7.47,"c":"w"},{"x":-2.86,"y":-7.47,"c":"w"},{"x":-2.58,"y":-7.47,"c":"w"},{"x":-2.29,"y":-7.47,"c":"w"},{"x":-2.01,"y":-7.47,"c":"w"},{"x":-1.72,"y":-7.47,"c":"w"},{"x":-1.43,"y":-7.47,"c":"w"},{"x":-1.15,"y":-7.47,"c":"w"},{"x":-0.86,"y":-7.47,"c":"w"},{"x":-0.57,"y":-7.47,"c":"w"},{"x":-0.29,"y":-7.47,"c":"w"},{"x":0.00,"y":-7.47,"c":"w"},{"x":0.29,"y":-7.47,"c":"w"},{"x":0.57,"y":-7.47,"c":"w"},{"x":0.86,"y":-7.47,"c":"w"},{"x":1.15,"y":-7.47,"c":"w"},{"x":1.43,"y":-7.47,"c":"w"},{"x":1.72,"y":-7.47,"c":"w"},{"x":2.00,"y":-7.47,"c":"w"},{"x":2.29,"y":-7.47,"c":"w"},{"x":2.58,"y":-7.47,"c":"w"},{"x":2.86,"y":-7.47,"c":"w"},

      {"x":-3.29,"y":-8.00,"c":"w"},{"x":-3.01,"y":-8.00,"c":"w"},{"x":-2.72,"y":-8.00,"c":"w"},{"x":-2.43,"y":-8.00,"c":"w"},{"x":-2.15,"y":-8.00,"c":"w"},{"x":-1.86,"y":-8.00,"c":"w"},{"x":-1.58,"y":-8.00,"c":"w"},{"x":-1.29,"y":-8.00,"c":"w"},{"x":-1.00,"y":-8.00,"c":"w"},{"x":-0.72,"y":-8.00,"c":"w"},{"x":-0.43,"y":-8.00,"c":"w"},{"x":-0.14,"y":-8.00,"c":"w"},{"x":0.14,"y":-8.00,"c":"w"},{"x":0.43,"y":-8.00,"c":"w"},{"x":0.72,"y":-8.00,"c":"w"},{"x":1.00,"y":-8.00,"c":"w"},{"x":1.29,"y":-8.00,"c":"w"},{"x":1.58,"y":-8.00,"c":"w"},{"x":1.86,"y":-8.00,"c":"w"},{"x":2.15,"y":-8.00,"c":"w"},{"x":2.43,"y":-8.00,"c":"w"},

      {"x":-3.44,"y":-8.54,"c":"w"},{"x":-3.15,"y":-8.54,"c":"w"},{"x":-2.86,"y":-8.54,"c":"w"},{"x":-2.58,"y":-8.54,"c":"w"},{"x":-2.29,"y":-8.54,"c":"w"},{"x":-2.01,"y":-8.54,"c":"w"},{"x":-1.72,"y":-8.54,"c":"w"},{"x":-1.43,"y":-8.54,"c":"w"},{"x":-1.15,"y":-8.54,"c":"w"},{"x":-0.86,"y":-8.54,"c":"w"},{"x":-0.57,"y":-8.54,"c":"w"},{"x":-0.29,"y":-8.54,"c":"w"},{"x":0.00,"y":-8.54,"c":"w"},{"x":0.29,"y":-8.54,"c":"w"},{"x":0.57,"y":-8.54,"c":"w"},{"x":0.86,"y":-8.54,"c":"w"},{"x":1.15,"y":-8.54,"c":"w"},{"x":1.43,"y":-8.54,"c":"w"},

      {"x":-3.58,"y":-9.07,"c":"w"},{"x":-3.29,"y":-9.07,"c":"w"},{"x":-3.01,"y":-9.07,"c":"w"},{"x":-2.72,"y":-9.07,"c":"w"},{"x":-2.43,"y":-9.07,"c":"w"},{"x":-2.15,"y":-9.07,"c":"w"},{"x":-1.86,"y":-9.07,"c":"w"},{"x":-1.58,"y":-9.07,"c":"w"},{"x":-1.29,"y":-9.07,"c":"w"},{"x":-1.00,"y":-9.07,"c":"w"},{"x":-0.72,"y":-9.07,"c":"w"},{"x":-0.43,"y":-9.07,"c":"w"},{"x":-0.14,"y":-9.07,"c":"w"},{"x":0.14,"y":-9.07,"c":"w"},{"x":0.43,"y":-9.07,"c":"w"},{"x":0.72,"y":-9.07,"c":"w"},{"x":1.00,"y":-9.07,"c":"w"},

      {"x":-3.44,"y":-9.60,"c":"w"},{"x":-3.15,"y":-9.60,"c":"w"},{"x":-2.86,"y":-9.60,"c":"w"},{"x":-2.58,"y":-9.60,"c":"w"},{"x":-2.29,"y":-9.60,"c":"w"},{"x":-2.01,"y":-9.60,"c":"w"},{"x":-1.72,"y":-9.60,"c":"w"},{"x":-1.43,"y":-9.60,"c":"w"},{"x":-1.15,"y":-9.60,"c":"w"},{"x":-0.86,"y":-9.60,"c":"w"},{"x":-0.57,"y":-9.60,"c":"w"},{"x":-0.29,"y":-9.60,"c":"w"},{"x":0.00,"y":-9.60,"c":"w"},{"x":0.29,"y":-9.60,"c":"w"},

      {"x":-2.43,"y":-10.14,"c":"w"},{"x":-2.15,"y":-10.14,"c":"w"},{"x":-1.86,"y":-10.14,"c":"w"},{"x":-1.58,"y":-10.14,"c":"w"},{"x":-1.29,"y":-10.14,"c":"w"},{"x":-1.00,"y":-10.14,"c":"w"}
    ]
  },
  "layer": [
    {
      "data": {"name": "bands"},
      "transform": [{"filter": "datum.band === 'yellow'"}],
      "mark": {"type": "area", "orient": "horizontal", "color": "#F4EEBA", "opacity": 1},
      "encoding": {
        "y": {"field": "y", "type": "quantitative", "scale": {"domain": [-12, 12], "nice": false, "zero": false},
              "axis": {"orient": "left", "values": [-10, -5, 0, 5, 10], "title": "b\u2083/v", "titleFontSize": 22, "titlePadding": 46}},
        "x": {"field": "x", "type": "quantitative", "scale": {"domain": [-5, 10], "nice": false, "zero": false},
              "axis": {"orient": "bottom", "values": [-4, -2, 0, 2, 4, 6, 8, 10], "title": "\u03bb\u2082\u2082\u2081/v", "titleFontSize": 23, "titlePadding": 2}},
        "x2": {"field": "x2"}
      }
    },
    {
      "data": {"name": "bands"},
      "transform": [{"filter": "datum.band === 'green'"}],
      "mark": {"type": "area", "orient": "horizontal", "color": "#B9ECAA", "opacity": 1},
      "encoding": {
        "y": {"field": "y", "type": "quantitative", "scale": {"domain": [-12, 12], "nice": false, "zero": false}, "axis": null},
        "x": {"field": "x", "type": "quantitative", "scale": {"domain": [-5, 10], "nice": false, "zero": false}, "axis": null},
        "x2": {"field": "x2"}
      }
    },
    {
      "data": {"name": "scan"},
      "mark": {
        "type": "point",
        "shape": "M-1,0A1,0.8,0,1,1,1,0A1,0.8,0,1,1,-1,0Z",
        "filled": true, "opacity": 1, "size": 132,
        "stroke": "#1e1e1e", "strokeWidth": 1
      },
      "encoding": {
        "x": {"field": "x", "type": "quantitative", "scale": {"domain": [-5, 10], "nice": false, "zero": false}, "axis": null},
        "y": {"field": "y", "type": "quantitative", "scale": {"domain": [-12, 12], "nice": false, "zero": false}, "axis": null},
        "fill": {"field": "c", "type": "nominal", "legend": null,
                 "scale": {"domain": ["w", "b", "p"], "range": ["#FFFFFF", "#87CEEB", "#CDB6D9"]}}
      }
    },
    {
      "data": {"name": "contours"},
      "mark": {"type": "line", "stroke": "#F05522", "strokeWidth": 2.5, "strokeDash": [13, 11], "interpolate": "catmull-rom", "clip": true},
      "encoding": {
        "x": {"field": "x", "type": "quantitative", "scale": {"domain": [-5, 10], "nice": false, "zero": false}, "axis": null},
        "y": {"field": "y", "type": "quantitative", "scale": {"domain": [-12, 12], "nice": false, "zero": false}, "axis": null},
        "detail": {"field": "curve", "type": "nominal"},
        "order": {"field": "k", "type": "quantitative"}
      }
    },
    {
      "data": {"name": "tickvals"},
      "transform": [{"filter": "datum.axis === 'x'"}],
      "mark": {"type": "rule", "stroke": "black", "strokeWidth": 1.3},
      "encoding": {
        "x": {"field": "v", "type": "quantitative", "scale": {"domain": [-5, 10], "nice": false, "zero": false}, "axis": null},
        "y": {"datum": -12, "type": "quantitative", "scale": {"domain": [-12, 12], "nice": false, "zero": false}, "axis": null},
        "y2": {"datum": -11.64}
      }
    },
    {
      "data": {"name": "tickvals"},
      "transform": [{"filter": "datum.axis === 'x'"}],
      "mark": {"type": "rule", "stroke": "black", "strokeWidth": 1.3},
      "encoding": {
        "x": {"field": "v", "type": "quantitative", "scale": {"domain": [-5, 10], "nice": false, "zero": false}, "axis": null},
        "y": {"datum": 12, "type": "quantitative", "scale": {"domain": [-12, 12], "nice": false, "zero": false}, "axis": null},
        "y2": {"datum": 11.64}
      }
    },
    {
      "data": {"name": "tickvals"},
      "transform": [{"filter": "datum.axis === 'y'"}],
      "mark": {"type": "rule", "stroke": "black", "strokeWidth": 1.3},
      "encoding": {
        "y": {"field": "v", "type": "quantitative", "scale": {"domain": [-12, 12], "nice": false, "zero": false}, "axis": null},
        "x": {"datum": -5, "type": "quantitative", "scale": {"domain": [-5, 10], "nice": false, "zero": false}, "axis": null},
        "x2": {"datum": -4.833}
      }
    },
    {
      "data": {"name": "tickvals"},
      "transform": [{"filter": "datum.axis === 'y'"}],
      "mark": {"type": "rule", "stroke": "black", "strokeWidth": 1.3},
      "encoding": {
        "y": {"field": "v", "type": "quantitative", "scale": {"domain": [-12, 12], "nice": false, "zero": false}, "axis": null},
        "x": {"datum": 10, "type": "quantitative", "scale": {"domain": [-5, 10], "nice": false, "zero": false}, "axis": null},
        "x2": {"datum": 9.833}
      }
    }
  ],
  "resolve": {"axis": {"x": "independent", "y": "independent"}}
}
